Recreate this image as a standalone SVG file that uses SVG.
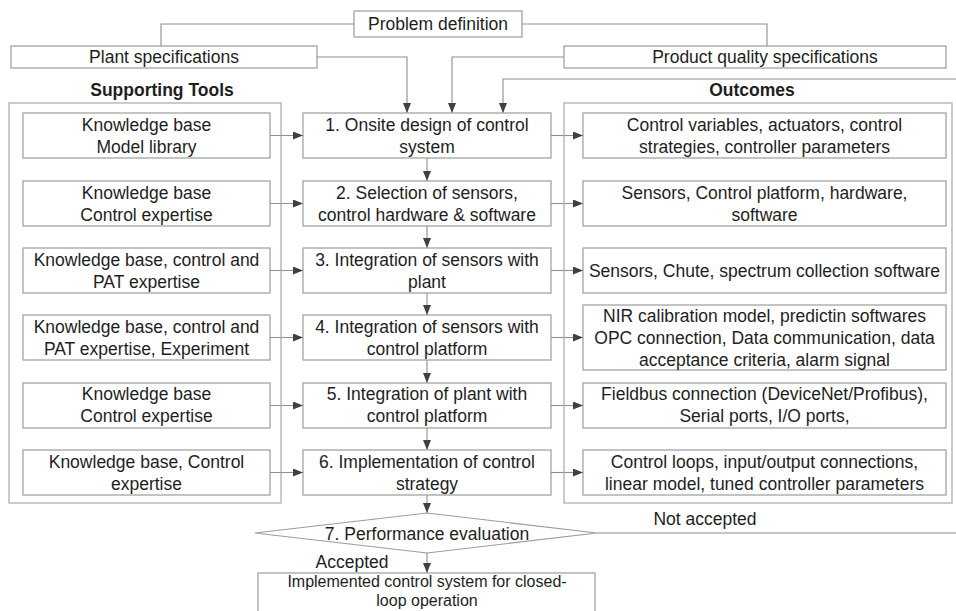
<svg xmlns="http://www.w3.org/2000/svg" width="956" height="611" viewBox="0 0 956 611">
<style>
.box{fill:#fff;stroke:#9c9c9c;stroke-width:1.2}
.cont{fill:none;stroke:#a8a8a8;stroke-width:1.2}
.con{fill:none;stroke:#8e8e8e;stroke-width:1.1}
.arr{marker-end:url(#ah)}
text{font-family:"Liberation Sans",Arial,sans-serif;font-size:17.5px;fill:#1e1e1e;text-anchor:middle}
.b{font-weight:bold}
.s{font-size:16px}
</style>
<defs>
<marker id="ah" markerUnits="userSpaceOnUse" markerWidth="10" markerHeight="8" refX="10" refY="4" orient="auto">
<path d="M0,0 L10,4 L0,8 z" fill="#404040"/>
</marker>
</defs>
<rect width="956" height="611" fill="#fff"/>

<g id="connectors">
<path class="con" d="M354,24 H161 V46"/>
<path class="con" d="M522,24 H767 V46"/>
<path class="con arr" d="M317,57 H407 V113"/>
<path class="con arr" d="M564,57 H452 V113"/>
<path class="con arr" d="M597,533 H962 V79 H503 V113"/>
<path class="con arr" d="M270,135.5 H303"/>
<path class="con arr" d="M270,203.5 H303"/>
<path class="con arr" d="M270,270.5 H303"/>
<path class="con arr" d="M270,337.5 H303"/>
<path class="con arr" d="M270,405.5 H303"/>
<path class="con arr" d="M270,472.5 H303"/>
<path class="con arr" d="M551,135.5 H583"/>
<path class="con arr" d="M551,203.5 H583"/>
<path class="con arr" d="M551,270.5 H583"/>
<path class="con arr" d="M551,337.5 H583"/>
<path class="con arr" d="M551,405.5 H583"/>
<path class="con arr" d="M551,472.5 H583"/>
<path class="con arr" d="M427,158 V181"/>
<path class="con arr" d="M427,226 V248"/>
<path class="con arr" d="M427,293 V315"/>
<path class="con arr" d="M427,360 V383"/>
<path class="con arr" d="M427,427 V450"/>
<path class="con arr" d="M427,495 V513"/>
<path class="con arr" d="M427,553 V573"/>
<text x="352" y="568">Accepted</text>
<text x="705" y="525">Not accepted</text>
</g>

<g id="problem">
<rect class="box" x="354" y="11" width="168" height="26"/>
<text x="438" y="30">Problem definition</text>
</g>
<g id="plant-spec">
<rect class="box" x="11" y="46" width="306" height="22"/>
<text x="164" y="63">Plant specifications</text>
</g>
<g id="product-spec">
<rect class="box" x="564" y="46" width="382" height="22"/>
<text x="765" y="63">Product quality specifications</text>
</g>

<g id="supporting-tools">
<rect class="cont" x="9" y="103" width="272" height="400"/>
<text class="b" x="162" y="96">Supporting Tools</text>
</g>
<g id="outcomes">
<rect class="cont" x="564" y="103" width="388" height="400"/>
<text class="b" x="752" y="96">Outcomes</text>
</g>

<g id="tool1"><rect class="box" x="23" y="113" width="247" height="45"/><text x="146.5" y="131">Knowledge base</text><text x="146.5" y="153">Model library</text></g>
<g id="tool2"><rect class="box" x="23" y="181" width="247" height="45"/><text x="146.5" y="199">Knowledge base</text><text x="146.5" y="221">Control expertise</text></g>
<g id="tool3"><rect class="box" x="23" y="248" width="247" height="45"/><text x="146.5" y="266">Knowledge base, control and</text><text x="146.5" y="288">PAT expertise</text></g>
<g id="tool4"><rect class="box" x="23" y="315" width="247" height="45"/><text x="146.5" y="333">Knowledge base, control and</text><text x="146.5" y="355">PAT expertise, Experiment</text></g>
<g id="tool5"><rect class="box" x="23" y="383" width="247" height="45"/><text x="146.5" y="400">Knowledge base</text><text x="146.5" y="422">Control expertise</text></g>
<g id="tool6"><rect class="box" x="23" y="450" width="247" height="45"/><text x="146.5" y="468">Knowledge base, Control</text><text x="146.5" y="490">expertise</text></g>

<g id="step1"><rect class="box" x="303" y="113" width="248" height="45"/><text x="427" y="131">1. Onsite design of control</text><text x="427" y="153">system</text></g>
<g id="step2"><rect class="box" x="303" y="181" width="248" height="45"/><text x="427" y="199">2. Selection of sensors,</text><text x="427" y="221">control hardware &amp; software</text></g>
<g id="step3"><rect class="box" x="303" y="248" width="248" height="45"/><text x="427" y="266">3. Integration of sensors with</text><text x="427" y="288">plant</text></g>
<g id="step4"><rect class="box" x="303" y="315" width="248" height="45"/><text x="427" y="333">4. Integration of sensors with</text><text x="427" y="355">control platform</text></g>
<g id="step5"><rect class="box" x="303" y="383" width="248" height="45"/><text x="427" y="400">5. Integration of plant with</text><text x="427" y="422">control platform</text></g>
<g id="step6"><rect class="box" x="303" y="450" width="248" height="45"/><text x="427" y="468">6. Implementation of control</text><text x="427" y="490">strategy</text></g>

<g id="out1"><rect class="box" x="583" y="113" width="363" height="45"/><text x="764.5" y="131">Control variables, actuators, control</text><text x="764.5" y="153">strategies, controller parameters</text></g>
<g id="out2"><rect class="box" x="583" y="181" width="363" height="45"/><text x="764.5" y="199">Sensors, Control platform, hardware,</text><text x="764.5" y="221">software</text></g>
<g id="out3"><rect class="box" x="583" y="248" width="363" height="45"/><text x="764.5" y="277">Sensors, Chute, spectrum collection software</text></g>
<g id="out4"><rect class="box" x="583" y="305" width="363" height="65"/><text x="764.5" y="322">NIR calibration model, predictin softwares</text><text x="764.5" y="344">OPC connection, Data communication, data</text><text x="764.5" y="366">acceptance criteria, alarm signal</text></g>
<g id="out5"><rect class="box" x="583" y="383" width="363" height="45"/><text x="764.5" y="400">Fieldbus connection (DeviceNet/Profibus),</text><text x="764.5" y="422">Serial ports, I/O ports,</text></g>
<g id="out6"><rect class="box" x="583" y="450" width="363" height="45"/><text x="764.5" y="468">Control loops, input/output connections,</text><text x="764.5" y="490">linear model, tuned controller parameters</text></g>

<g id="step7">
<polygon class="box" points="255,533 427,513 597,533 427,553"/>
<text x="427" y="540">7. Performance evaluation</text>
</g>

<g id="result">
<rect class="box" x="258" y="573" width="337" height="50"/>
<text class="s" x="427" y="587">Implemented control system for closed-</text>
<text class="s" x="427" y="606">loop operation</text>
</g>
</svg>
